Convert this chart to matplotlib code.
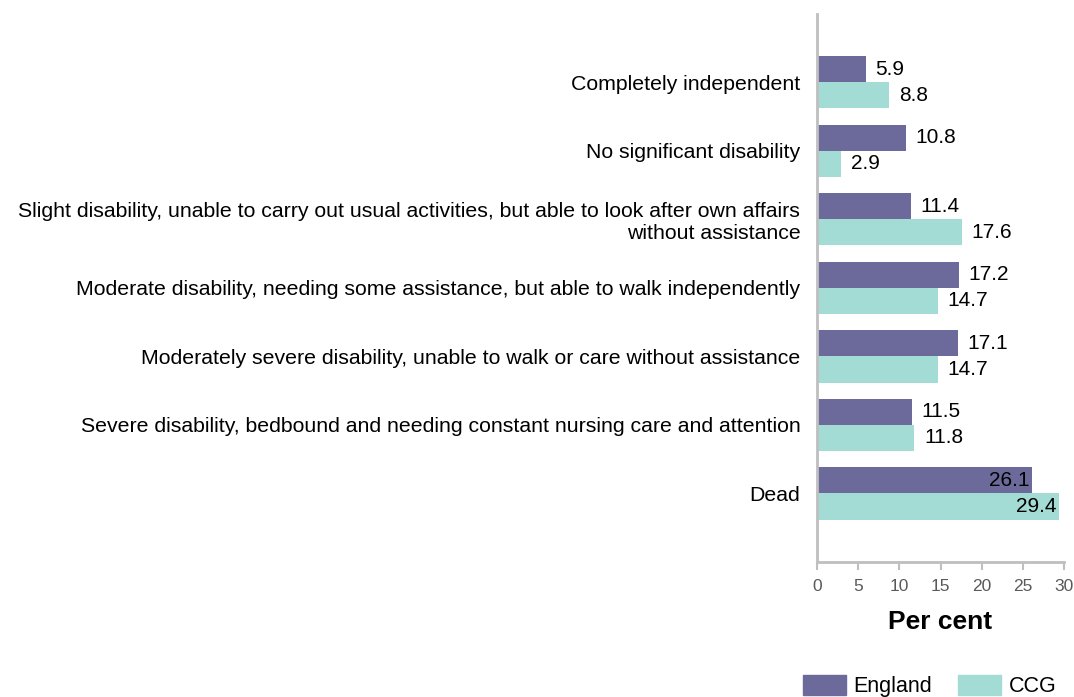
import numpy as np
import matplotlib.pyplot as plt
from matplotlib.patches import Patch

plt.rcParams['font.family'] = ['Liberation Sans', 'DejaVu Sans']

categories = [
    'Completely independent',
    'No significant disability',
    'Slight disability, unable to carry out usual activities, but able to look after own affairs\nwithout assistance',
    'Moderate disability, needing some assistance, but able to walk independently',
    'Moderately severe disability, unable to walk or care without assistance',
    'Severe disability, bedbound and needing constant nursing care and attention',
    'Dead',
]
england = [5.9, 10.8, 11.4, 17.2, 17.1, 11.5, 26.1]
ccg = [8.8, 2.9, 17.6, 14.7, 14.7, 11.8, 29.4]

col_eng = '#6c6a9b'
col_ccg = '#a3dcd5'
axis_grey = '#bfbfbf'

fig = plt.figure(figsize=(10.74, 6.97), dpi=100)
ax = fig.add_axes([0.7607, 0.1937, 0.23, 0.7863])

y = np.arange(len(categories))
h = 0.38
b1 = ax.barh(y - h / 2, england, height=h, color=col_eng)
b2 = ax.barh(y + h / 2, ccg, height=h, color=col_ccg)

# value labels: outside the bar, inside for the long ones
for bars, vals in ((b1, england), (b2, ccg)):
    for rect, v in zip(bars, vals):
        yc = rect.get_y() + rect.get_height() / 2
        if v > 25:
            ax.annotate(f'{v:.1f}', (v, yc), xytext=(-2, 0), textcoords='offset points',
                        ha='right', va='center', fontsize=15)
        else:
            ax.annotate(f'{v:.1f}', (v, yc), xytext=(7, 0), textcoords='offset points',
                        ha='left', va='center', fontsize=15)

ax.set_xlim(0, 30)
ax.set_ylim(len(categories), -1)
ax.set_yticks(y)
ax.set_yticklabels(categories, fontsize=15.3, ha='right', linespacing=1.2)
ax.tick_params(axis='y', length=0, pad=12)
ax.set_xticks(range(0, 31, 5))
ax.tick_params(axis='x', colors=axis_grey, labelcolor='#595959', labelsize=12.5,
               length=6, width=1.5, pad=6)
ax.set_xlabel('Per cent', fontsize=19, fontweight='bold', labelpad=12)

for s in ('top', 'right'):
    ax.spines[s].set_visible(False)
for s in ('left', 'bottom'):
    ax.spines[s].set_color(axis_grey)
    ax.spines[s].set_linewidth(2)

handles = [Patch(color=col_eng, label='England'), Patch(color=col_ccg, label='CCG')]
fig.legend(handles=handles, loc='upper left', bbox_to_anchor=(0.7477, 0.031), ncol=2,
           frameon=False, fontsize=15.5, handlelength=2.0, handleheight=1.0,
           handletextpad=0.35, columnspacing=1.2, borderpad=0, borderaxespad=0)

fig.savefig('out.png', dpi=100)
